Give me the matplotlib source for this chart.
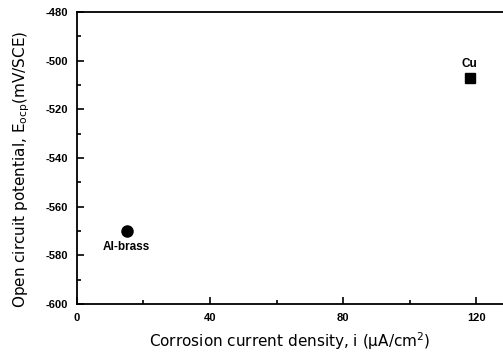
import matplotlib
matplotlib.use("Agg")
import matplotlib.pyplot as plt
from matplotlib.ticker import MultipleLocator

plt.rcParams['font.family'] = ['Liberation Sans', 'DejaVu Sans']
plt.rcParams['axes.unicode_minus'] = False

# data
materials = ['Al-brass', 'Cu']
current_density = [15, 118]      # uA/cm2
potential = [-570, -507]         # mV/SCE
markers = ['o', 's']
label_offsets = [-11.5, 10]      # points, label centre relative to marker

fig = plt.figure(figsize=(5.03, 3.58), dpi=100)
ax = fig.add_axes([0.1525, 0.151, 0.8475, 0.8155])

for name, x, y, m, off in zip(materials, current_density, potential, markers, label_offsets):
    ax.plot(x, y, marker=m, color='black', markersize=8 if m == 'o' else 7.6,
            linestyle='none')
    ax.annotate(name, (x, y), xytext=(0, off), textcoords='offset points',
                ha='center', va='center', fontsize=8.5, fontweight='bold')

ax.set_xlim(0, 128)
ax.set_ylim(-600, -480)
ax.xaxis.set_major_locator(MultipleLocator(40))
ax.xaxis.set_minor_locator(MultipleLocator(20))
ax.yaxis.set_major_locator(MultipleLocator(20))
ax.yaxis.set_minor_locator(MultipleLocator(10))
ax.tick_params(which='both', direction='in', top=False, right=False,
               width=1.2, labelsize=8)
ax.tick_params(which='major', length=5, pad=6.5)
ax.tick_params(which='minor', length=3)
for lab in ax.get_xticklabels() + ax.get_yticklabels():
    lab.set_fontweight('bold')
ax.spines['right'].set_visible(False)
for sp in ['left', 'top', 'bottom']:
    ax.spines[sp].set_linewidth(1.3)

ax.set_xlabel(r'Corrosion current density, i ($\mathregular{\mu}$A/cm$^2$)',
              fontsize=11, family='DejaVu Sans', labelpad=5)
ax.set_ylabel(r'Open circuit potential, E$_{\mathregular{ocp}}$(mV/SCE)',
              fontsize=11, family='DejaVu Sans')
ax.yaxis.set_label_coords(-0.105, 0.46)

fig.savefig('out.png', dpi=100)
